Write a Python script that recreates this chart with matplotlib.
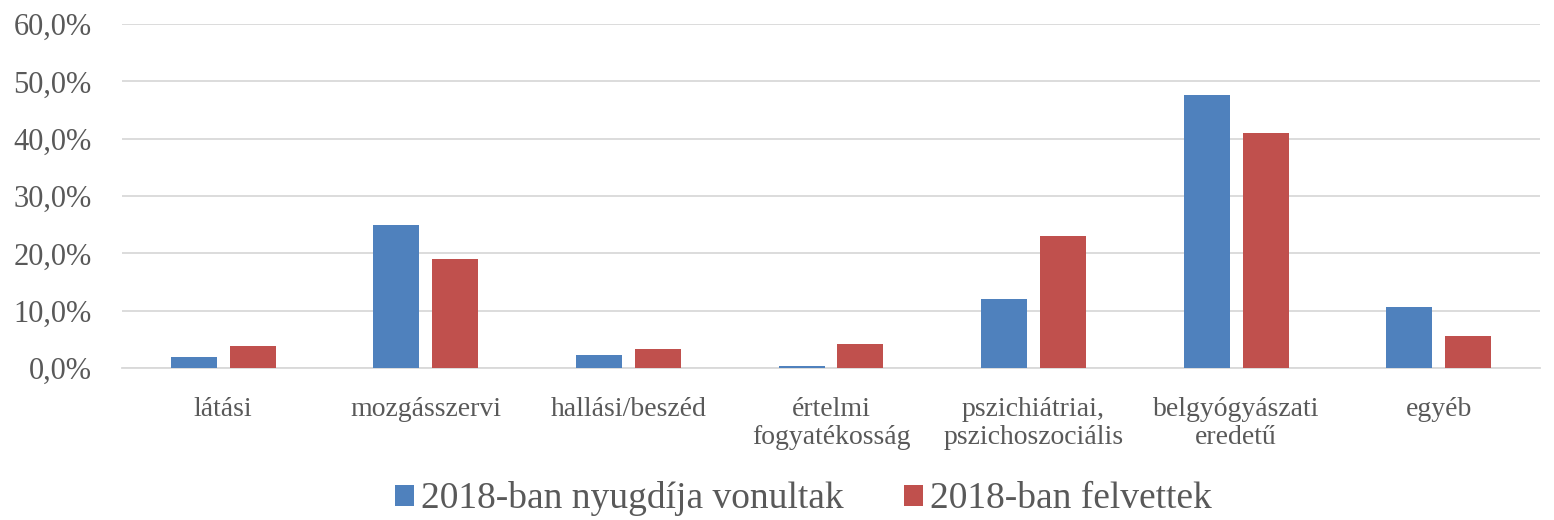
import matplotlib
matplotlib.use("Agg")
import matplotlib.pyplot as plt
import numpy as np
from matplotlib.ticker import FuncFormatter

categories = ["látási", "mozgásszervi", "hallási/beszéd", "értelmi\nfogyatékosság",
              "pszichiátriai,\npszichoszociális", "belgyógyászati\neredetű", "egyéb"]
series_names = ["2018-ban nyugdíja vonultak", "2018-ban felvettek"]
retired = [1.9, 24.9, 2.2, 0.4, 12.1, 47.7, 10.6]
hired = [3.8, 19.0, 3.25, 4.2, 23.1, 41.0, 5.6]
colors = ["#4F81BD", "#C0504D"]

plt.rcParams['font.family'] = ['Liberation Serif', 'DejaVu Serif']

fig = plt.figure(figsize=(15.54, 5.2), dpi=100)
ax = fig.add_axes([122/1554, 1-368/520, (1540-122)/1554, (368-24)/520])

x = np.arange(len(categories))
w = 0.227
off = 0.145
ax.bar(x - off, retired, w, color=colors[0], label=series_names[0], zorder=3)
ax.bar(x + off, hired, w, color=colors[1], label=series_names[1], zorder=3)

ax.set_xlim(-0.5, len(categories) - 0.5)
ax.set_ylim(0, 60)
ax.set_yticks(np.arange(0, 61, 10))
ax.yaxis.set_major_formatter(FuncFormatter(lambda v, p: f"{v:.1f}%".replace(".", ",")))
ax.grid(axis='y', color='#D9D9D9', linewidth=1.3, zorder=0)
for s in ['top', 'right', 'left']:
    ax.spines[s].set_visible(False)
ax.spines['bottom'].set_color('#D9D9D9')
ax.spines['bottom'].set_linewidth(1.3)
ax.set_xticks(x)
ax.set_xticklabels(categories, fontsize=20, color='#595959', linespacing=1.13)
ax.tick_params(axis='x', length=0, pad=21)
ax.tick_params(axis='y', length=0, pad=22, labelsize=22, labelcolor='#595959')

leg = fig.legend(loc='center', bbox_to_anchor=(0.517, 1-499/520), ncol=2, frameon=False,
                 fontsize=27, handlelength=0.5, handleheight=0.5, columnspacing=1.6,
                 handletextpad=0.2)
for t in leg.get_texts():
    t.set_color('#595959')

fig.savefig("out.png", dpi=100)
